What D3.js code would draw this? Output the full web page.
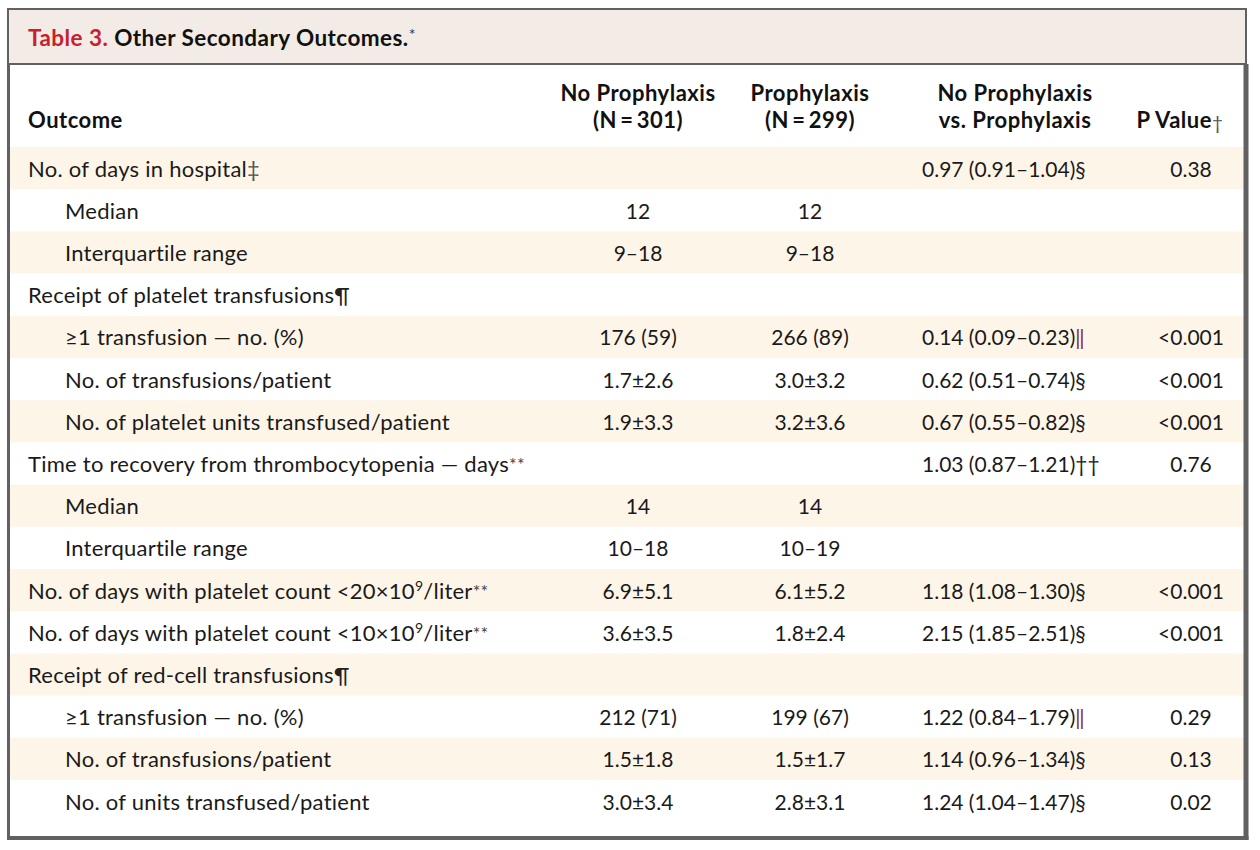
<!DOCTYPE html>
<html>
<head>
<meta charset="utf-8">
<script src="https://cdn.jsdelivr.net/npm/d3@7"></script>
<style>
  body { margin: 0; background: #ffffff; }
  svg { display: block; }
</style>
</head>
<body>
<svg id="chart" width="1260" height="850"></svg>
<script>
// ---------- data ----------
const titleLabel = "Table 3.";
const titleText = "Other Secondary Outcomes.";
const titleNote = "*";

const headers = [
  { lines: ["Outcome"], note: "" },
  { lines: ["No Prophylaxis", "(N\u2009=\u2009301)"], note: "" },
  { lines: ["Prophylaxis", "(N\u2009=\u2009299)"], note: "" },
  { lines: ["No Prophylaxis", "vs. Prophylaxis"], note: "" },
  { lines: ["P Value"], note: "\u2020" }
];

const outcomes = [
  "No. of days in hospital",
  "Median",
  "Interquartile range",
  "Receipt of platelet transfusions",
  "\u22651 transfusion \u2014 no. (%)",
  "No. of transfusions/patient",
  "No. of platelet units transfused/patient",
  "Time to recovery from thrombocytopenia \u2014 days",
  "Median",
  "Interquartile range",
  "No. of days with platelet count <20\u00d710^9/liter",
  "No. of days with platelet count <10\u00d710^9/liter",
  "Receipt of red-cell transfusions",
  "\u22651 transfusion \u2014 no. (%)",
  "No. of transfusions/patient",
  "No. of units transfused/patient"
];
const outcomeNotes = ["\u2021", "", "", "\u00b6", "", "", "", "**", "", "", "**", "**", "\u00b6", "", "", ""];
const indentLevel = [0, 1, 1, 0, 1, 1, 1, 0, 1, 1, 0, 0, 0, 1, 1, 1];

const noProphylaxis = ["", "12", "9\u201318", "", "176 (59)", "1.7\u00b12.6", "1.9\u00b13.3", "", "14", "10\u201318", "6.9\u00b15.1", "3.6\u00b13.5", "", "212 (71)", "1.5\u00b11.8", "3.0\u00b13.4"];
const prophylaxis   = ["", "12", "9\u201318", "", "266 (89)", "3.0\u00b13.2", "3.2\u00b13.6", "", "14", "10\u201319", "6.1\u00b15.2", "1.8\u00b12.4", "", "199 (67)", "1.5\u00b11.7", "2.8\u00b13.1"];
const comparison = ["0.97 (0.91\u20131.04)", "", "", "", "0.14 (0.09\u20130.23)", "0.62 (0.51\u20130.74)", "0.67 (0.55\u20130.82)", "1.03 (0.87\u20131.21)", "", "", "1.18 (1.08\u20131.30)", "2.15 (1.85\u20132.51)", "", "1.22 (0.84\u20131.79)", "1.14 (0.96\u20131.34)", "1.24 (1.04\u20131.47)"];
const comparisonNotes = ["\u00a7", "", "", "", "\u2016", "\u00a7", "\u00a7", "\u2020\u2020", "", "", "\u00a7", "\u00a7", "", "\u2016", "\u00a7", "\u00a7"];
const pValues = ["0.38", "", "", "", "<0.001", "<0.001", "<0.001", "0.76", "", "", "<0.001", "<0.001", "", "0.29", "0.13", "0.02"];

// ---------- layout ----------
const svg = d3.select("#chart");
const FONT = "Lato, 'Open Sans', sans-serif";
const FS = 21;
const borderColor = "#616161";
const titleFill = "#f3ebe5";
const stripeFill = "#fef5e9";

const L = 8, R = 1246;
const titleTop = 9, titleBottom = 64;
const bodyBottom = 836;

const rowIdx = d3.range(outcomes.length);
const y = d3.scaleBand().domain(rowIdx).range([147, 147 + 42.2 * outcomes.length]).padding(0);

const colX = d3.scaleOrdinal().domain(["label", "np", "p", "cmp", "pv"]).range([28, 638, 810, 922, 1191]);
const indentX = d3.scaleOrdinal().domain([0, 1]).range([28, 65]);

// title box
svg.append("rect").attr("x", L).attr("y", titleTop).attr("width", R - L).attr("height", titleBottom - titleTop)
  .attr("fill", titleFill).attr("stroke", borderColor).attr("stroke-width", 2);

const tt = svg.append("text").attr("x", 28).attr("y", 46)
  .attr("font-family", FONT).attr("font-size", 22.5).attr("font-weight", 700).attr("letter-spacing", 0.45);
tt.append("tspan").attr("fill", "#c8202e").text(titleLabel + " ");
tt.append("tspan").attr("fill", "#111").text(titleText);
tt.append("tspan").attr("fill", "#333").attr("font-size", 16).attr("dy", -6).attr("font-weight", 400).text(titleNote);

// stripes
svg.append("g").selectAll("rect").data(rowIdx.filter(i => i % 2 === 0)).join("rect")
  .attr("x", L + 2).attr("width", R - L - 4)
  .attr("y", d => y(d)).attr("height", y.bandwidth())
  .attr("fill", stripeFill);

// body borders
svg.append("line").attr("x1", L + 0.5).attr("x2", L + 0.5).attr("y1", titleBottom).attr("y2", bodyBottom + 2)
  .attr("stroke", borderColor).attr("stroke-width", 3);
svg.append("line").attr("x1", R).attr("x2", R).attr("y1", titleBottom).attr("y2", bodyBottom + 4)
  .attr("stroke", borderColor).attr("stroke-width", 5);
svg.append("line").attr("x1", L - 1).attr("x2", R + 2.5).attr("y1", bodyBottom + 2).attr("y2", bodyBottom + 2)
  .attr("stroke", borderColor).attr("stroke-width", 4);

// headers
const headerCenters = [null, 638, 810, 1015, 1180];
const hg = svg.append("g").attr("font-family", FONT).attr("font-size", 22).attr("font-weight", 700)
  .attr("letter-spacing", 0.5).attr("fill", "#111");
headers.forEach((h, i) => {
  const n = h.lines.length;
  h.lines.forEach((line, j) => {
    const baseY = 128 - (n - 1 - j) * 27;
    const t = hg.append("text")
      .attr("x", i === 0 ? colX("label") : headerCenters[i])
      .attr("y", baseY)
      .attr("text-anchor", i === 0 ? "start" : "middle");
    t.append("tspan").text(line);
    if (j === n - 1 && h.note) {
      t.append("tspan").attr("font-size", 19).attr("font-weight", 400).attr("fill", "#555").attr("dy", 2).text(h.note);
    }
  });
});

// body text
const bg = svg.append("g").attr("font-family", FONT).attr("font-size", FS).attr("fill", "#1a1a1a");
const baseline = d => y(d) + y.bandwidth() / 2 + 8.5;

function appendLabel(sel, str) {
  const parts = str.split(/\^(\d+)/);
  let pendingDy = 0;
  parts.forEach((p, k) => {
    if (k % 2 === 1) {
      sel.append("tspan").attr("font-size", 14).attr("dy", -8).text(p);
      pendingDy = 8;
    } else if (p) {
      const ts = sel.append("tspan").text(p);
      if (pendingDy) { ts.attr("dy", pendingDy); pendingDy = 0; }
    }
  });
  return pendingDy;
}

const lg = bg.append("g").attr("font-size", 22).attr("letter-spacing", 0.25);
rowIdx.forEach(i => {
  const t = lg.append("text").attr("x", indentX(indentLevel[i])).attr("y", baseline(i));
  appendLabel(t, outcomes[i]);
  if (outcomeNotes[i]) {
    if (outcomeNotes[i] === "**") {
      t.append("tspan").attr("font-size", 18).attr("dy", -1).attr("fill", "#444").text(outcomeNotes[i]);
    } else {
      t.append("tspan").attr("fill", outcomeNotes[i] === "\u2021" ? "#555" : "#222").text(outcomeNotes[i]);
    }
  }
});

bg.append("g").selectAll("text").data(rowIdx).join("text")
  .attr("x", colX("np")).attr("y", baseline).attr("text-anchor", "middle").text(d => noProphylaxis[d]);
bg.append("g").selectAll("text").data(rowIdx).join("text")
  .attr("x", colX("p")).attr("y", baseline).attr("text-anchor", "middle").text(d => prophylaxis[d]);

rowIdx.forEach(i => {
  if (!comparison[i]) return;
  const t = bg.append("text").attr("x", colX("cmp")).attr("y", baseline(i));
  t.append("tspan").text(comparison[i]);
  t.append("tspan").attr("fill", comparisonNotes[i] === "\u2016" ? "#7a2a2a" : "#222").text(comparisonNotes[i]);
});

bg.append("g").selectAll("text").data(rowIdx).join("text")
  .attr("x", colX("pv")).attr("y", baseline).attr("text-anchor", "middle").text(d => pValues[d]);
</script>
</body>
</html>
